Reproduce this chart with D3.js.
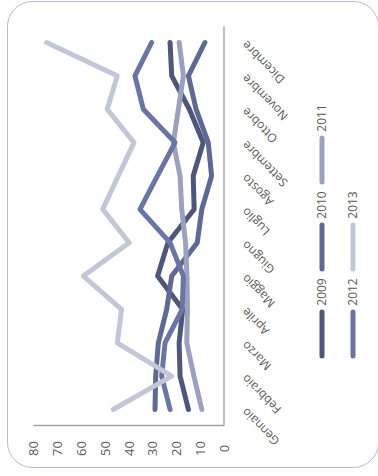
<!DOCTYPE html>
<html>
<head>
<meta charset="utf-8">
<script src="https://cdn.jsdelivr.net/npm/d3@7/dist/d3.min.js"></script>
<style>
html,body{margin:0;padding:0;background:#fff;}
svg{display:block;font-family:"Open Sans",sans-serif;}
</style>
</head>
<body>
<svg id="chart" width="378" height="476"></svg>
<script>
const months = ["Gennaio","Febbraio","Marzo","Aprile","Maggio","Giugno","Luglio","Agosto","Settembre","Ottobre","Novembre","Dicembre"];
const valueTicks = [0,10,20,30,40,50,60,70,80];
const seriesNames = ["2009","2010","2011","2012","2013"];
const seriesColors = ["#4e5779","#5f6994","#9ca2bd","#6b75a4","#c3c6d6"];
const v2009 = [14.9,18.4,18.8,17.3,27.8,23.5,12.5,12.9,8.7,14.5,21.9,22.6];
const v2010 = [28.9,28.6,27.5,24.0,21.9,11.2,9.3,5.2,6.6,11.7,14.9,8.0];
const v2011 = [9.3,12.6,15.6,15.3,15.5,16.1,17.7,18.4,21.2,19.1,17.0,18.8];
const v2012 = [22.6,26.1,24.7,17.5,17.0,22.6,35.2,27.9,20.5,33.8,37.3,30.3];
const v2013 = [46.4,21.9,44.7,42.9,58.9,39.7,50.8,44.3,37.7,48.9,44.7,74.3];
const seriesValues = [v2009,v2010,v2011,v2012,v2013];

const svg = d3.select("#chart");
// chart area border
svg.append("rect").attr("x",7.5).attr("y",1.5).attr("width",371).attr("height",466)
  .attr("rx",25).attr("ry",25).attr("fill","#fff").attr("stroke","#b3bbd8").attr("stroke-width",1);

const x = d3.scaleLinear().domain([0,80]).range([224,33]);
const y = d3.scalePoint().domain(months).range([409.5,42.5]);
const half = y.step()/2;

// value axis (bottom)
const gx = svg.append("g").attr("transform","translate(0,425)")
  .call(d3.axisBottom(x).tickValues(valueTicks).tickSize(0).tickSizeOuter(0));
gx.select(".domain").attr("stroke","#a0a0a0").attr("stroke-width",1.3);
gx.selectAll("text").attr("x",0).attr("y",0).attr("dy","0.35em")
  .attr("text-anchor","middle").attr("transform","translate(0,23.5) rotate(-90)")
  .attr("fill","#595959").style("font-size","13px").style("font-family","'Open Sans',sans-serif");

// category axis (right)
const gy = svg.append("g").attr("transform","translate(224,0)")
  .call(d3.axisRight(y).tickSize(0).tickSizeOuter(0));
gy.select(".domain").remove();
gy.append("line").attr("x1",0).attr("x2",0)
  .attr("y1",y(months[months.length-1])-half+0.5).attr("y2",y(months[0])+half-1)
  .attr("stroke","#a0a0a0").attr("stroke-width",1.3);
gy.selectAll("text").attr("x",0).attr("y",0).attr("dy","0.35em")
  .attr("text-anchor","end").attr("transform","translate(20,0) rotate(-135)")
  .attr("fill","#595959").style("font-size","12px").style("font-family","'Open Sans',sans-serif");

// lines
const line = d3.line().x(d=>x(d.v)).y(d=>y(d.m));
seriesNames.forEach((name,i)=>{
  const data = months.map((m,j)=>({m:m,v:seriesValues[i][j]}));
  svg.append("path").datum(data).attr("d",line)
    .attr("fill","none").attr("stroke",seriesColors[i]).attr("stroke-width",5)
    .attr("stroke-linecap","round").attr("stroke-linejoin","round");
});

// legend (rotated): two columns
const legCols = [322,353];
const legBase = [334,247,160]; // line centers (y)
seriesNames.forEach((name,i)=>{
  const col = Math.floor(i/3), row = i%3;
  const cx = legCols[col], cy = legBase[row];
  const g = svg.append("g");
  g.append("line").attr("x1",cx).attr("x2",cx).attr("y1",cy+22).attr("y2",cy-22)
    .attr("stroke",seriesColors[i]).attr("stroke-width",5).attr("stroke-linecap","round");
  g.append("text").attr("transform",`translate(${cx},${cy-42}) rotate(-90)`)
    .attr("text-anchor","middle").attr("dy","0.35em")
    .attr("fill","#595959").style("font-size","12px").text(name);
});
</script>
</body>
</html>
